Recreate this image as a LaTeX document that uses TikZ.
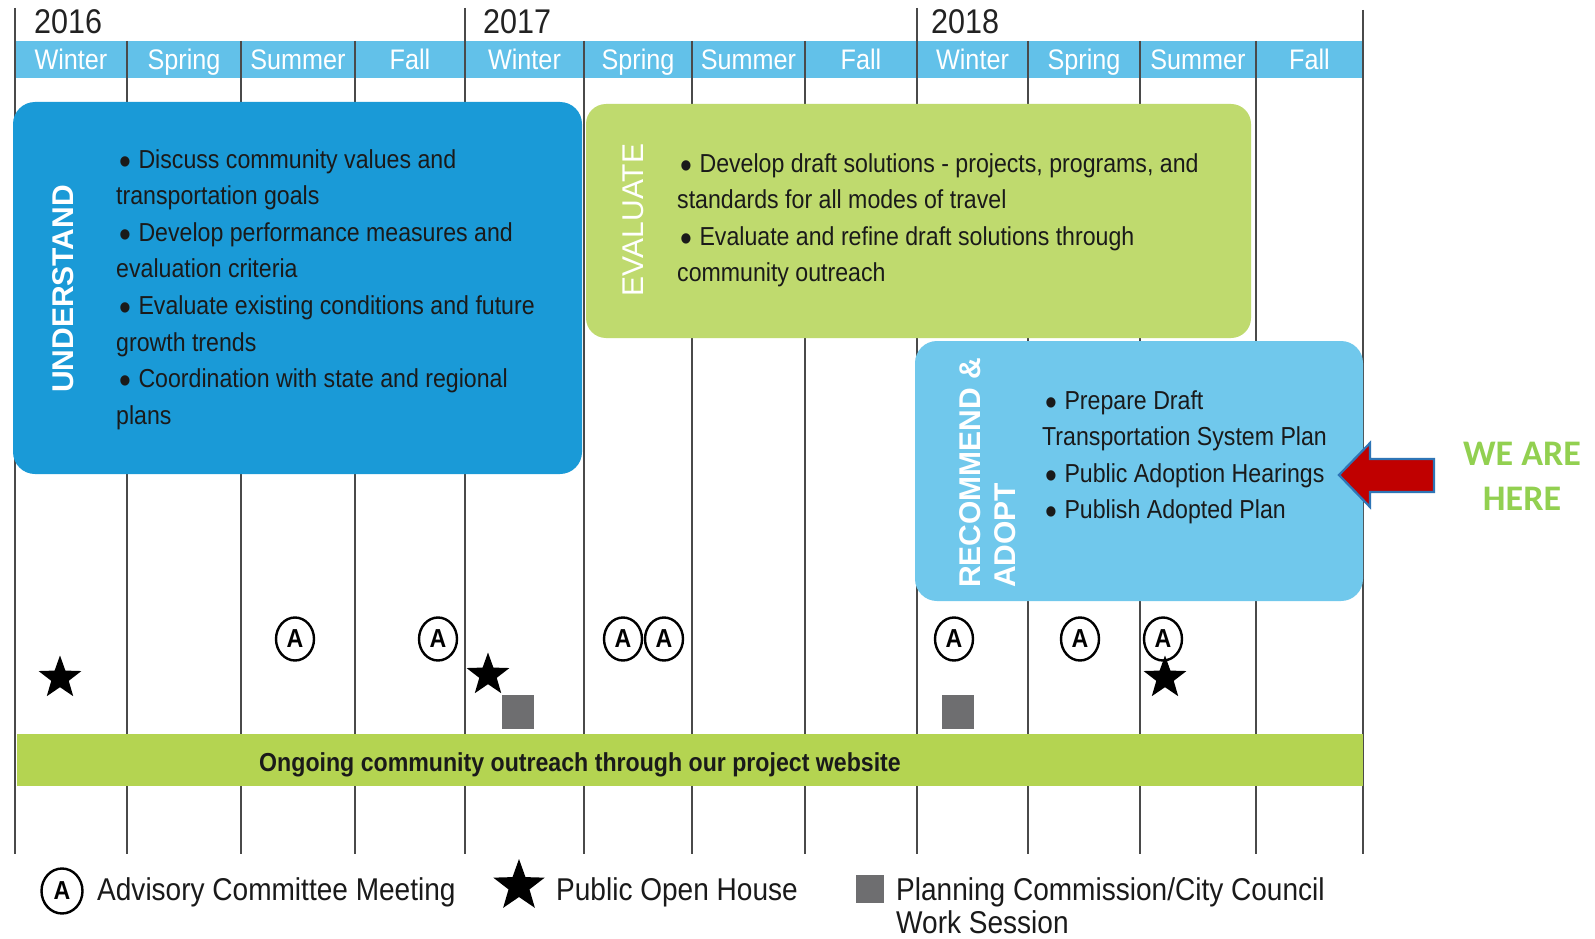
\documentclass[tikz,border=0pt]{standalone}
\usepackage{fontspec}
\setmainfont{Liberation Sans}
\newfontfamily\condf[FakeStretch=0.89]{Liberation Sans}
\newfontfamily\calfont{Carlito}
\usetikzlibrary{shapes.geometric}
\definecolor{band}{HTML}{62C1E9}
\definecolor{ublue}{HTML}{1A9AD7}
\definecolor{evgreen}{HTML}{BFDA6E}
\definecolor{recblue}{HTML}{70C8EC}
\definecolor{barg}{HTML}{B4D451}
\definecolor{sqgray}{HTML}{6E6E70}
\definecolor{linegray}{HTML}{4A4A4A}
\definecolor{bodytxt}{HTML}{1A1A1A}
\definecolor{yeartxt}{HTML}{222222}
\definecolor{arrred}{HTML}{C00000}
\definecolor{arrblue}{HTML}{2E75B6}
\definecolor{weg}{HTML}{92D050}
\newcommand{\mybul}{\hspace*{3pt}{\fontsize{38}{0}\selectfont\raisebox{-6pt}{\textbullet}}\hspace{7.5pt}}
\begin{document}
\begin{tikzpicture}[x=1pt,y=-1pt,
  vline/.style={draw=linegray, line width=2.4pt},
  season/.style={font=\condf\fontsize{28.3}{30}\selectfont, text=white, anchor=base, inner sep=0pt},
  yearlbl/.style={font=\condf\fontsize{34.3}{36}\selectfont, text=yeartxt, anchor=base west, inner sep=0pt},
  btxt/.style={font=\condf\fontsize{26}{36.6}\selectfont, text=bodytxt, align=left, anchor=north west, inner sep=0pt},
  phase/.style={text=white, rotate=90, inner sep=0pt},
  acirc/.style={ellipse, draw=black, line width=2.4pt, minimum width=38pt, minimum height=43pt, inner sep=0pt, font=\condf\bfseries\fontsize{26}{26}\selectfont},
  ostar/.style={star, star points=5, star point ratio=2.45, fill=black, inner sep=0pt, minimum size=45pt},
  psq/.style={fill=sqgray, minimum width=32pt, minimum height=34pt, inner sep=0pt},
  legtxt/.style={font=\condf\fontsize{31.5}{34}\selectfont, text=bodytxt, anchor=base west, inner sep=0pt}
]
\useasboundingbox (0,0) rectangle (1595,939);
\fill[white] (0,0) rectangle (1595,939);
% header band
\fill[band] (15,41) rectangle (1363,78);
% grid lines
\foreach \x in {127,241,355,584,692,805,1028,1140,1256} \draw[vline] (\x,41) -- (\x,854);
\foreach \x in {15,465,917} \draw[vline] (\x,8) -- (\x,854);
\draw[vline] (1363,10) -- (1363,854);
% years
\node[yearlbl] (y16) at (34,34) {2016};
\node[yearlbl] (y17) at (483,34) {2017};
\node[yearlbl] (y18) at (931,34) {2018};
% seasons
\foreach \x/\s [count=\i] in {71/Winter,184/Spring,298/Summer,410/Fall,524.5/Winter,638/Spring,748.5/Summer,861/Fall,972.5/Winter,1084/Spring,1198/Summer,1309.5/Fall}
  \node[season] (s\i) at (\x,70) {\s};
% phase boxes
\fill[ublue, rounded corners=22pt] (13,102) rectangle (582,474);
\fill[evgreen, rounded corners=20pt] (586,104) rectangle (1251,338);
\fill[recblue, rounded corners=22pt] (915,341) rectangle (1363,601);
% phase labels
\node[phase, font=\bfseries\fontsize{30}{35}\selectfont] (und) at (63,289) {UNDERSTAND};
\node[phase, font=\fontsize{30}{35}\selectfont] (eva) at (633,220) {EVALUATE};
\node[phase, font=\bfseries\fontsize{30}{35}\selectfont, align=left, anchor=west] (rec) at (988,588) {RECOMMEND \&\\ADOPT};
% box texts
\node[btxt] (ut) at (116,149) {\mybul Discuss community values and\\transportation goals\\\mybul Develop performance measures and\\evaluation criteria\\\mybul Evaluate existing conditions and future\\growth trends\\\mybul Coordination with state and regional\\plans};
\node[btxt] (et) at (677,153) {\mybul Develop draft solutions - projects, programs, and\\standards for all modes of travel\\\mybul Evaluate and refine draft solutions through\\community outreach};
\node[btxt] (rt) at (1042,390) {\mybul Prepare Draft\\Transportation System Plan\\\mybul Public Adoption Hearings\\\mybul Publish Adopted Plan};
% ongoing bar
\fill[barg] (17,734) rectangle (1363,786);
\node[font=\condf\bfseries\fontsize{26}{30}\selectfont, text=bodytxt, anchor=base, inner sep=0pt] (web) at (580,771) {Ongoing community outreach through our project website};
% advisory meetings
\foreach \x [count=\i] in {295,438,623,664,954,1080,1163}
  \node[acirc] (a\i) at (\x,639) {A};
% open houses
\node[ostar] (h1) at (60,678) {};
\node[ostar] (h2) at (488,675) {};
\node[ostar] (h3) at (1165,678) {};
% work sessions
\node[psq] (w1) at (518,712) {};
\node[psq] (w2) at (958,712) {};
% arrow
\draw[fill=arrred, draw=arrblue, line width=2.2pt, line join=miter]
  (1339,475) -- (1370,443) -- (1370,459) -- (1434,459) -- (1434,492) -- (1370,492) -- (1370,507) -- cycle;
\node[font=\calfont\bfseries\fontsize{36}{45}\selectfont, text=weg, align=center, inner sep=0pt] (wah) at (1522,476) {WE ARE\\HERE};
% legend
\node[acirc, minimum width=41pt, minimum height=45pt] (la) at (62,891) {A};
\node[legtxt] (lat) at (97,900) {Advisory Committee Meeting};
\node[ostar, minimum size=54pt] (ls) at (519,886) {};
\node[legtxt] (lst) at (556,900) {Public Open House};
\node[psq, minimum width=28pt, minimum height=28pt] (lq) at (870,889) {};
\node[legtxt] (lqt) at (896,900) {Planning Commission/City Council};
\node[legtxt] (lqt2) at (896,933) {Work Session};
\end{tikzpicture}
\end{document}
